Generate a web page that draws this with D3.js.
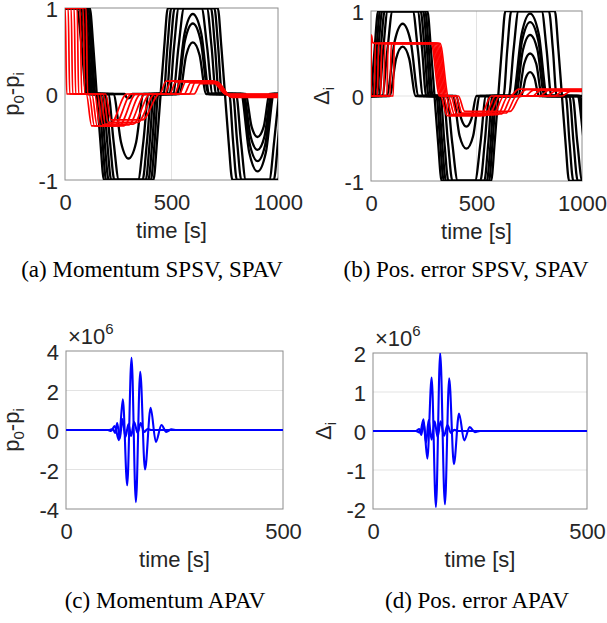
<!DOCTYPE html>
<html>
<head>
<meta charset="utf-8">
<script src="https://cdn.jsdelivr.net/npm/d3@7"></script>
<style>
  html, body { margin: 0; padding: 0; background: #fff; }
  svg text { font-family: "Liberation Sans", Arial, sans-serif; }
  svg text.cap { font-family: "Liberation Serif", "Times New Roman", serif; }
</style>
</head>
<body>
<svg id="fig" width="607" height="623"></svg>
<script>
// ---- data (time [s], value) ----
const ticksLong = [0, 500, 1000];
const ticksShort = [0, 500];
const ticksUnit = [-1, 0, 1];
const ticksC = [-4, -2, 0, 2, 4];
const ticksD = [-2, -1, 0, 1, 2];

// (a) momentum, SPSV (black)
const aBlack = [
  [[0,1],[116,1],[133,.55],[149,0],[166,-.55],[183,-1],[415,-1],[432,-.55],[449,0],[466,.55],[483,1],[717,1],[734,.55],[751,0],[768,-.55],[786,-1],[1018,-1],[1036,-.55],[1053,0]],
  [[0,1],[109,1],[126,.55],[143,0],[158,0],[176,-.55],[193,-1],[403,-1],[421,-.55],[438,0],[463,0],[481,.55],[499,1],[701,1],[719,.55],[737,0],[771,0],[789,-.55],[807,-1],[1001,-1],[1019,-.55],[1037,0]],
  [[0,1],[101,1],[119,.55],[137,0],[168,0],[186,-.55],[205,-1],[391,-1],[410,-.55],[428,0],[477,0],[496,.55],[515,1],[685,1],[704,.55],[723,0],[788,0],[808,-.55],[828,-1],[980,-1],[1000,-.55],[1020,0]],
  [[0,1],[93,1],[111,.55],[130,0],[179,0],[198,-.55],[217,-1],[379,-1],[398,-.55],[417,0],[491,0],[512,.55],[534,1],[666,1],[688,.55],[709,0],[803,0],[826,-.55],[849,-1],[959,-1],[982,-.55],[1005,0]],
  [[0,1],[85,1],[104,.55],[123,0],[189,0],[211,-.55],[232,-1],[364,-1],[385,-.55],[407,0],[507,0],[533,.55],[559,1],[641,1],[667,.55],[693,0],[826,0],[865,-.68],[904,-.9],[943,-.68],[982,0],[1000,0]],
  [[0,1],[76,1],[96,.55],[116,0],[203,0],[228,-.55],[253,-1],[343,-1],[368,-.55],[393,0],[521,0],[561,.7],[600,.93],[640,.7],[679,0],[832,0],[868,-.59],[904,-.78],[940,-.59],[976,0],[1000,0]],
  [[0,1],[66,1],[88,.55],[109,0],[227,0],[263,-.56],[298,-.75],[334,-.56],[369,0],[526,0],[563,.62],[600,.82],[637,.62],[674,0],[838,0],[871,-.49],[904,-.65],[937,-.49],[970,0],[1000,0]],
  [[0,1],[55,1],[78,.55],[101,0],[280,0],[289,-.04],[298,-.05],[307,-.04],[316,0],[537,0],[569,.45],[600,.6],[632,.45],[663,0],[847,0],[876,-.38],[904,-.5],[933,-.38],[961,0],[1000,0]]
];

// (a) momentum, SPAV (red)
const aRed = [
  [[0,1],[1,1],[8,0],[100,0],[125,-.37],[210,-.37],[290,0],[445,0],[475,.15],[690,.15],[755,0],[1000,0]],
  [[0,1],[15,1],[22,0],[113,0],[138,-.37],[232,-.37],[312,0],[468,0],[498,.15],[694,.15],[759,-.005],[1000,-.005]],
  [[0,1],[29,1],[36,0],[126,0],[151,-.37],[254,-.37],[334,0],[491,0],[521,.14],[698,.14],[763,-.01],[1000,-.01]],
  [[0,1],[43,1],[50,0],[139,0],[164,-.37],[276,-.37],[356,0],[514,0],[544,.15],[702,.15],[767,-.015],[1000,-.015]],
  [[0,1],[57,1],[64,0],[152,0],[177,-.36],[298,-.36],[378,0],[537,0],[567,.14],[706,.14],[771,-.02],[1000,-.02]],
  [[0,1],[71,1],[78,0],[165,0],[190,-.35],[320,-.35],[400,0],[560,0],[590,.13],[710,.13],[775,-.025],[1000,-.025]],
  [[0,1],[85,1],[92,0],[178,0],[203,-.33],[342,-.33],[422,0],[583,0],[613,.14],[714,.14],[779,-.03],[1000,-.03]],
  [[0,1],[99,1],[106,0],[191,0],[216,-.30],[364,-.30],[444,0],[606,0],[636,.12],[718,.12],[783,-.04],[1000,-.04]]
];

// (b) position error, SPSV (black)
const bBlack = [
  [[0,0],[17,.55],[34,1],[267,1],[284,.55],[301,0],[318,-.55],[335,-1],[569,-1],[586,-.55],[603,0],[620,.55],[637,1],[871,1],[888,.55],[905,0],[922,-.55],[939,-1],[1100,-1]],
  [[0,0],[8,0],[26,.55],[43,1],[257,1],[274,.55],[292,0],[310,0],[328,-.55],[345,-1],[559,-1],[576,-.55],[594,0],[628,0],[646,.55],[665,1],[843,1],[862,.55],[880,0],[923,0],[941,-.55],[959,-1],[1100,-1]],
  [[0,0],[17,0],[35,.55],[53,1],[247,1],[265,.55],[283,0],[319,0],[337,-.55],[355,-1],[549,-1],[567,-.55],[585,0],[653,0],[676,.55],[699,1],[809,1],[832,.55],[855,0],[940,0],[960,-.55],[980,-1],[1100,-1]],
  [[0,0],[27,0],[46,.55],[65,1],[235,1],[254,.55],[273,0],[329,0],[348,-.55],[367,-1],[537,-1],[556,-.55],[575,0],[673,0],[714,.73],[754,.97],[795,.73],[835,0],[955,0],[978,-.55],[1001,-1],[1100,-1]],
  [[0,0],[38,0],[58,.55],[79,1],[221,1],[242,.55],[262,0],[343,0],[365,-.55],[386,-1],[518,-1],[539,-.55],[561,0],[677,0],[716,.65],[754,.87],[793,.65],[831,0],[978,0],[1017,-.68],[1056,-.9]],
  [[0,0],[53,0],[78,.55],[102,1],[198,1],[222,.55],[247,0],[359,0],[385,-.55],[411,-1],[493,-1],[519,-.55],[545,0],[685,0],[720,.54],[754,.72],[789,.54],[823,0],[984,0],[1020,-.59],[1056,-.78]],
  [[0,0],[74,0],[112,.64],[150,.85],[188,.64],[226,0],[388,0],[420,-.47],[452,-.62],[484,-.47],[516,0],[697,0],[726,.38],[754,.5],[783,.38],[811,0],[990,0],[1023,-.49],[1056,-.65]],
  [[0,0],[88,0],[119,.44],[150,.58],[181,.44],[212,0],[404,0],[428,-.27],[452,-.36],[476,-.27],[500,0],[712,0],[733,.21],[754,.28],[775,.21],[796,0],[999,0],[1028,-.38],[1056,-.5]]
];

// (b) position error, SPAV (red)
const bRed = [
  [[0,0],[2,.72],[8,.63],[20,.62],[285,.62],[325,0],[330,0],[360,-.23],[520,-.23],[570,0],[660,0],[700,.08],[1000,.08]],
  [[0,0],[15,0],[21,.62],[291,.62],[331,0],[342,0],[372,-.23],[540,-.23],[590,0],[695,0],[735,.075],[1000,.075]],
  [[0,0],[30,0],[36,.62],[297,.62],[337,0],[354,0],[384,-.22],[560,-.22],[610,0],[730,0],[770,.07],[1000,.07]],
  [[0,0],[45,0],[51,.62],[303,.62],[343,0],[366,0],[396,-.22],[580,-.22],[630,0],[765,0],[805,.07],[1000,.07]],
  [[0,0],[60,0],[66,.62],[309,.62],[349,0],[378,0],[408,-.22],[600,-.22],[650,0],[800,0],[840,.065],[1000,.065]],
  [[0,0],[75,0],[81,.62],[315,.62],[355,0],[390,0],[420,-.21],[620,-.21],[670,0],[835,0],[875,.06],[1000,.06]],
  [[0,0],[90,0],[96,.62],[321,.62],[361,0],[402,0],[432,-.2],[640,-.2],[690,0],[870,0],[910,.06],[1000,.06]],
  [[0,0],[105,0],[111,.62],[327,.62],[367,0],[414,0],[444,-.18],[660,-.18],[710,0],[905,0],[945,.055],[1000,.055]]
];

// (c) momentum APAV, values in 1e6
const cBlue = [
  [[0,0],[96,0],[104,-.05],[112,.2],[122,-.52],[131,1.55],[141,-2.8],[151,3.66],[161,-3.65],[171,2.95],[182,-2.0],[195,1.13],[207,-.6],[220,.25],[231,-.1],[243,.03],[255,0],[500,0]],
  [[0,0],[100,0],[108,.05],[113,-.15],[118,.35],[124,-.45],[130,.55],[137,-.35],[144,.3],[150,-.3],[157,.4],[165,-.15],[172,.35],[180,-.1],[188,.05],[196,0],[500,0]]
];

// (d) position error APAV, values in 1e6
const dBlue = [
  [[0,0],[100,0],[110,-.04],[118,.3],[127,-.71],[137,1.37],[147,-1.95],[157,2.0],[168,-1.88],[178,1.35],[189,-.85],[201,.45],[213,-.24],[226,.1],[238,-.03],[250,0],[500,0]],
  [[0,0],[100,0],[108,.05],[113,-.1],[118,.22],[124,-.3],[130,.28],[137,-.22],[144,.25],[151,-.15],[158,.25],[166,-.12],[174,.15],[182,-.05],[190,.03],[200,0],[500,0]]
];

const panels = [
  { id: "a", x0: 65, x1: 278, y0: 8, y1: 180, xDom: [0, 1000], yDom: [-1, 1], xTicks: ticksLong, yTicks: ticksUnit,
    gridX: [500], gridY: [0], label: "p", labX: 19, exp: false,
    caption: "(a) Momentum SPSV, SPAV", capX: 152, capY: 277,
    series: [{ data: aBlack, color: "#000", w: 2.3 }, { data: aRed, color: "#ff0000", w: 1.7 }] },
  { id: "b", x0: 371, x1: 582, y0: 11, y1: 181, xDom: [0, 1000], yDom: [-1, 1], xTicks: ticksLong, yTicks: ticksUnit,
    gridX: [500], gridY: [0], label: "d", labX: 329, exp: false,
    caption: "(b) Pos. error SPSV, SPAV", capX: 466, capY: 277,
    series: [{ data: bBlack, color: "#000", w: 2.3 }, { data: bRed, color: "#ff0000", w: 1.7 }] },
  { id: "c", x0: 66, x1: 283, y0: 351, y1: 509, xDom: [0, 500], yDom: [-4, 4], xTicks: ticksShort, yTicks: ticksC,
    gridX: [], gridY: [-2, 0, 2], label: "p", labX: 19, exp: true,
    caption: "(c) Momentum APAV", capX: 165, capY: 608,
    series: [{ data: cBlue, color: "#0000ff", w: 2.1 }] },
  { id: "d", x0: 373, x1: 587, y0: 353, y1: 509, xDom: [0, 500], yDom: [-2, 2], xTicks: ticksShort, yTicks: ticksD,
    gridX: [], gridY: [-1, 0, 1], label: "d", labX: 331, exp: true,
    caption: "(d) Pos. error APAV", capX: 477, capY: 608,
    series: [{ data: dBlue, color: "#0000ff", w: 2.1 }] }
];

const svg = d3.select("#fig");
svg.append("rect").attr("width", 607).attr("height", 623).attr("fill", "#fff");
const defs = svg.append("defs");
const txtCol = "#262626";

function drawPanel(p) {
  const x = d3.scaleLinear().domain(p.xDom).range([p.x0, p.x1]);
  const y = d3.scaleLinear().domain(p.yDom).range([p.y1, p.y0]);
  const g = svg.append("g");

  defs.append("clipPath").attr("id", "clip-" + p.id)
    .append("rect").attr("x", p.x0).attr("y", p.y0)
    .attr("width", p.x1 - p.x0).attr("height", p.y1 - p.y0);

  // grid
  p.gridX.forEach(v => g.append("line")
    .attr("x1", x(v)).attr("x2", x(v)).attr("y1", p.y0).attr("y2", p.y1)
    .attr("stroke", "#e3e3e3").attr("stroke-width", 1));
  p.gridY.forEach(v => g.append("line")
    .attr("x1", p.x0).attr("x2", p.x1).attr("y1", y(v)).attr("y2", y(v))
    .attr("stroke", "#e3e3e3").attr("stroke-width", 1));

  // box
  g.append("rect").attr("x", p.x0).attr("y", p.y0)
    .attr("width", p.x1 - p.x0).attr("height", p.y1 - p.y0)
    .attr("fill", "none").attr("stroke", "#8c8c8c").attr("stroke-width", 1);

  // curves
  const line = d3.line().x(d => x(d[0])).y(d => y(d[1])).curve(d3.curveMonotoneX);
  const lg = g.append("g").attr("clip-path", `url(#clip-${p.id})`);
  p.series.forEach(s => {
    s.data.forEach(c => lg.append("path")
      .attr("d", line(c)).attr("fill", "none")
      .attr("stroke", s.color).attr("stroke-width", s.w)
      .attr("stroke-linejoin", "round"));
  });

  // axes
  const xa = g.append("g").attr("transform", `translate(0,${p.y1})`)
    .call(d3.axisBottom(x).tickValues(p.xTicks).tickSize(0).tickPadding(14).tickFormat(d => String(d)));
  const ya = g.append("g").attr("transform", `translate(${p.x0},0)`)
    .call(d3.axisLeft(y).tickValues(p.yTicks).tickSize(0).tickPadding(7).tickFormat(d => String(d)));
  [xa, ya].forEach(a => {
    a.select(".domain").remove();
    a.attr("font-family", null).attr("font-size", null);
    a.selectAll("text").attr("font-size", 22).attr("fill", txtCol);
  });
  ya.selectAll("text").attr("dy", "0.4em");

  // x label
  g.append("text").attr("x", (p.x0 + p.x1) / 2).attr("y", p.y1 + 57.5)
    .attr("text-anchor", "middle").attr("font-size", 22).attr("fill", txtCol)
    .text("time [s]");

  // y label
  const yl = g.append("text")
    .attr("transform", `translate(${p.labX},${(p.y0 + p.y1) / 2}) rotate(-90)`)
    .attr("text-anchor", "middle").attr("font-size", 22).attr("fill", txtCol);
  if (p.label === "p") {
    yl.append("tspan").text("p");
    yl.append("tspan").attr("font-size", 15).attr("dy", 5).text("0");
    yl.append("tspan").attr("dy", -5).text("-p");
    yl.append("tspan").attr("font-size", 15).attr("dy", 5).text("i");
  } else {
    yl.append("tspan").text("\u0394");
    yl.append("tspan").attr("font-size", 15).attr("dy", 5).text("i");
  }

  // exponent
  if (p.exp) {
    const ex = g.append("text").attr("x", p.x0 + 2).attr("y", p.y0 - 7.5)
      .attr("font-size", 22).attr("fill", txtCol);
    ex.append("tspan").text("\u00d710");
    ex.append("tspan").attr("font-size", 15).attr("dy", -9.5).text("6");
  }

  // caption
  svg.append("text").attr("class", "cap")
    .attr("x", p.capX).attr("y", p.capY)
    .attr("text-anchor", "middle").attr("font-size", 23).attr("fill", "#000")
    .text(p.caption);
}

panels.forEach(drawPanel);
</script>
</body>
</html>
